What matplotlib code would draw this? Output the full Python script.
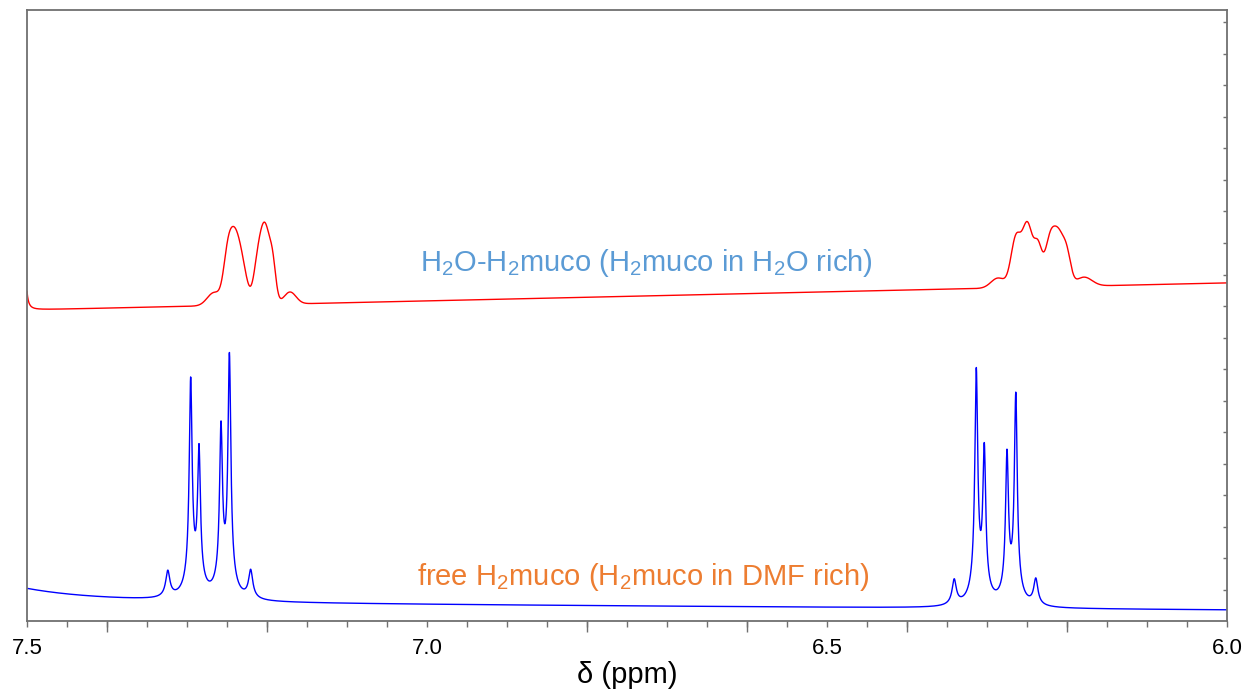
import numpy as np
import matplotlib
matplotlib.use("Agg")
import matplotlib.pyplot as plt

plt.rcParams['font.family'] = ['Liberation Sans', 'DejaVu Sans']
plt.rcParams['mathtext.fontset'] = 'custom'
plt.rcParams['mathtext.rm'] = 'Liberation Sans'
plt.rcParams['mathtext.it'] = 'Liberation Sans'
plt.rcParams['mathtext.default'] = 'regular'

# ---------------- data ----------------
ppm_left, ppm_right = 7.5, 6.0
x_ticks = [7.5, 7.0, 6.5, 6.0]
x_tick_labels = ["7.5", "7.0", "6.5", "6.0"]

# lower (blue) spectrum: free H2muco in DMF rich -- line list
blue_centers = [7.324, 7.2954, 7.285, 7.2575, 7.247, 7.2204,
                6.341, 6.3134, 6.3034, 6.275, 6.264, 6.239]
blue_heights = [26, 212, 139, 161, 236, 28,
                25, 228, 146, 143, 205, 26]
blue_widths = [0.0030, 0.0021, 0.0021, 0.0021, 0.0021, 0.0030,
               0.0030, 0.0021, 0.0021, 0.0021, 0.0021, 0.0030]
# skirt of each blue line (fraction of height, half width in ppm)
blue_skirt_fraction = 0.10
blue_skirt_width = 0.0075
# blue baseline: level at 6.0 ppm, slope per ppm, left-edge tail
blue_base_level = 11.0
blue_base_slope = 5.0
blue_edge_center, blue_edge_height, blue_edge_width = 7.60, 28.0, 0.10

# upper (red) spectrum: H2O-H2muco in H2O rich -- broadened components
red_centers = [7.26625, 7.25, 7.24125, 7.23, 7.2125, 7.2025, 7.1925, 7.17125,
               6.28625, 6.26375, 6.249375, 6.23625, 6.22125, 6.21, 6.20, 6.17875]
red_heights = [13, 25, 68, 25, 25, 78, 24, 12,
               10, 49, 61, 38, 45.6, 45.2, 27, 9]
red_sigmas = [0.0085, 0.0050, 0.0075, 0.00625, 0.0050, 0.006875, 0.00375, 0.0075,
              0.00875, 0.00625, 0.00625, 0.0050, 0.00625, 0.00625, 0.0050, 0.0100]
red_base_level = 312.0     # at 7.45 ppm
red_base_slope = 18.0      # rise per ppm toward low ppm
red_edge_center, red_edge_height, red_edge_width = 7.503, 60.0, 0.002

label_red = r"H$_2$O-H$_2$muco (H$_2$muco in H$_2$O rich)"
label_blue = r"free H$_2$muco (H$_2$muco in DMF rich)"


def lorentz(x, c, h, w):
    return h / (1.0 + ((x - c) / w) ** 2)


def gauss(x, c, h, s):
    return h * np.exp(-0.5 * ((x - c) / s) ** 2)


x = np.linspace(ppm_left, ppm_right, 6000)

blue = blue_base_level + blue_base_slope * (x - 6.0) \
    + lorentz(x, blue_edge_center, blue_edge_height, blue_edge_width)
for c, h, w in zip(blue_centers, blue_heights, blue_widths):
    blue = blue + lorentz(x, c, h * (1 - blue_skirt_fraction), w) \
        + lorentz(x, c, h * blue_skirt_fraction, blue_skirt_width)

red = red_base_level + red_base_slope * (7.45 - x) \
    + lorentz(x, red_edge_center, red_edge_height, red_edge_width)
for c, h, s in zip(red_centers, red_heights, red_sigmas):
    red = red + gauss(x, c, h, s)

# ---------------- figure ----------------
fig = plt.figure(figsize=(12.47, 6.95), dpi=100)
ax = fig.add_axes([27 / 1247, 74 / 695, 1200 / 1247, 611 / 695])

ax.plot(x, red, color='#ff0000', lw=1.0)
ax.plot(x, blue, color='#0000ff', lw=1.0)

ax.set_xlim(ppm_left, ppm_right)
ax.set_ylim(0, 611)

spine_col = '#707070'
for s in ax.spines.values():
    s.set_color(spine_col)
    s.set_linewidth(1.3)

ax.set_xticks(x_ticks)
ax.set_xticklabels(x_tick_labels)
ax.set_xticks(np.arange(6.0, 7.5001, 0.05), minor=True)
ax.tick_params(axis='x', which='both', direction='out', length=4,
               width=1.0, color=spine_col, labelsize=16, pad=8)

# longer ticks at the even tenths
sec = ax.secondary_xaxis('bottom')
sec.set_xticks([7.4, 7.2, 6.8, 6.6, 6.4, 6.2])
sec.set_xticklabels([])
sec.tick_params(direction='out', length=8, width=1.0, color=spine_col)
sec.spines['bottom'].set_visible(False)

ax.yaxis.tick_right()
ax.set_yticks(np.arange(31, 605, 31.55))
ax.set_yticklabels([])
ax.tick_params(axis='y', which='both', direction='in', length=3,
               width=1.0, color=spine_col)

ax.set_xlabel("δ (ppm)", fontsize=21, labelpad=2)

ax.text(6.726, 358, label_red, color='#5B9BD5', fontsize=21,
        ha='center', va='center')
ax.text(6.73, 44, label_blue, color='#ED7D31', fontsize=21,
        ha='center', va='center')

fig.savefig("out.png", dpi=100)
